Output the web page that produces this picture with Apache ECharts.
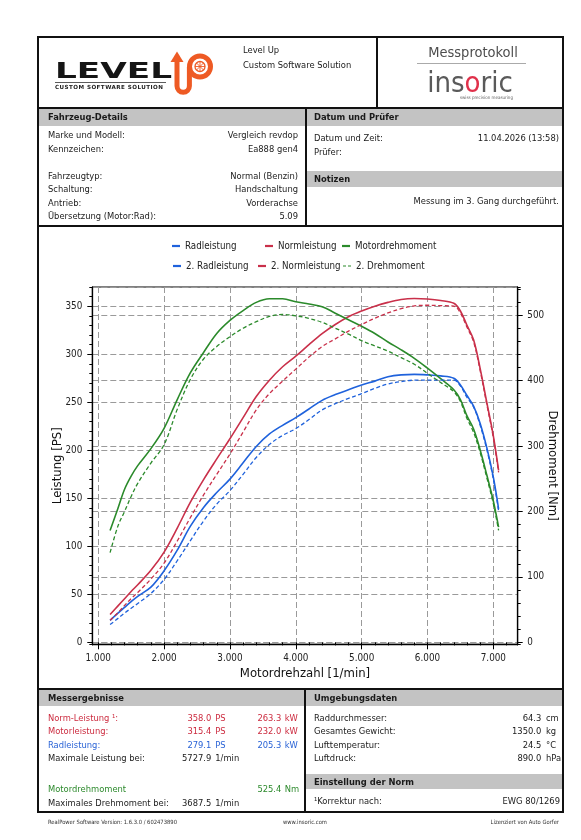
<!DOCTYPE html>
<html><head><meta charset="utf-8">
<script src="https://cdn.jsdelivr.net/npm/echarts@6/dist/echarts.min.js"></script>
<style>
html,body{margin:0;padding:0;background:#fff;}
body{width:581px;height:840px;position:relative;overflow:hidden;}
#chart{position:absolute;left:0;top:0;width:581px;height:840px;z-index:1;}
.o{position:absolute;z-index:3;font-family:'DejaVu Sans Condensed','DejaVu Sans',sans-serif;font-size:9.3px;line-height:1;color:#1a1a1a;white-space:nowrap;}
.b{font-weight:bold;}
.bar{position:absolute;z-index:2;background:#c3c3c3;}
.ln{position:absolute;z-index:3;background:#111;}
.red{color:#cc2b3f;} .blue{color:#2a63d6;} .green{color:#2d8a2d;}
.foot{font-size:5.8px;color:#333;}
</style></head>
<body>
<div id="chart"></div>

<!-- frame and section lines -->
<div style="position:absolute;z-index:3;left:37px;top:36px;width:527px;height:777px;border:2px solid #111;box-sizing:border-box;"></div>
<div class="ln" style="left:37px;top:106.5px;width:527px;height:2px;"></div>
<div class="ln" style="left:376px;top:36px;width:2px;height:72px;"></div>
<div class="ln" style="left:304.5px;top:107px;width:2px;height:119px;"></div>
<div class="ln" style="left:37px;top:225px;width:527px;height:2px;"></div>
<div class="ln" style="left:37px;top:688px;width:527px;height:2px;"></div>
<div class="ln" style="left:303.5px;top:689px;width:2px;height:124px;"></div>

<!-- grey header bars -->
<div class="bar" style="left:39px;top:108.5px;width:265.5px;height:17px;"></div>
<div class="bar" style="left:306.5px;top:108.5px;width:255.5px;height:17px;"></div>
<div class="bar" style="left:306.5px;top:170.5px;width:255.5px;height:16px;"></div>
<div class="bar" style="left:39px;top:690px;width:264.5px;height:15.7px;"></div>
<div class="bar" style="left:305.5px;top:690px;width:256.5px;height:15.7px;"></div>
<div class="bar" style="left:305.5px;top:773.5px;width:256.5px;height:15.5px;"></div>

<!-- logo -->
<svg style="position:absolute;left:0;top:0;z-index:3" width="581" height="110">
  <path d="M177 61 L177 86 A6.2 6.2 0 0 0 189.4 86 L189.4 67" fill="none" stroke="#ee5a24" stroke-width="5"/>
  <polygon points="170.5,62 183.5,62 177,51.5" fill="#ee5a24"/>
  <circle cx="200" cy="66.5" r="10.5" fill="none" stroke="#ee5a24" stroke-width="5"/>
  <circle cx="200" cy="66.5" r="5" fill="none" stroke="#ee5a24" stroke-width="1.3"/>
  <path d="M200 61.5 L200 71.5 M195 66.5 L205 66.5 M196.5 63 L203.5 70 M203.5 63 L196.5 70" stroke="#ee5a24" stroke-width="0.9"/>
  <rect x="55" y="82" width="111" height="0.8" fill="#333"/>
</svg>
<div class="o b" style="left:55px;top:60.4px;font-family:'DejaVu Sans',sans-serif;font-size:22px;color:#151515;transform:scaleX(1.56);transform-origin:0 0;">LEVEL</div>
<div class="o b" style="left:55px;top:85.1px;font-family:'DejaVu Sans',sans-serif;font-size:5.6px;letter-spacing:0.45px;color:#222;">CUSTOM SOFTWARE SOLUTION</div>

<div class="o" style="left:243px;top:44.5px;">Level Up</div>
<div class="o" style="left:243px;top:59.8px;">Custom Software Solution</div>

<div class="o" style="left:423px;top:44.5px;width:100px;text-align:center;font-size:14.5px;color:#4d4d4d;">Messprotokoll</div>
<div style="position:absolute;z-index:3;left:417px;top:63px;width:109px;height:1px;background:#aaa;"></div>
<div class="o" style="left:420px;top:68.2px;width:100px;text-align:center;font-size:29px;color:#5a5a5a;">ins<span style="color:#e0304a;">o</span>ric</div>
<div class="o" style="right:68px;top:95.5px;font-size:4.5px;color:#666;">swiss precision measuring</div>

<!-- Fahrzeug-Details -->
<div class="o b" style="left:48px;top:112px;">Fahrzeug-Details</div>
<div class="o" style="left:48px;top:129.5px;">Marke und Modell:</div>
<div class="o" style="right:283px;top:129.5px;">Vergleich revdop</div>
<div class="o" style="left:48px;top:143.8px;">Kennzeichen:</div>
<div class="o" style="right:283px;top:143.8px;">Ea888 gen4</div>
<div class="o" style="left:48px;top:170.5px;">Fahrzeugtyp:</div>
<div class="o" style="right:283px;top:170.5px;">Normal (Benzin)</div>
<div class="o" style="left:48px;top:184px;">Schaltung:</div>
<div class="o" style="right:283px;top:184px;">Handschaltung</div>
<div class="o" style="left:48px;top:197.5px;">Antrieb:</div>
<div class="o" style="right:283px;top:197.5px;">Vorderachse</div>
<div class="o" style="left:48px;top:211px;">Übersetzung (Motor:Rad):</div>
<div class="o" style="right:283px;top:211px;">5.09</div>

<!-- Datum und Prüfer -->
<div class="o b" style="left:314px;top:112px;">Datum und Prüfer</div>
<div class="o" style="left:314px;top:133.2px;">Datum und Zeit:</div>
<div class="o" style="right:22px;top:133.2px;">11.04.2026 (13:58)</div>
<div class="o" style="left:314px;top:147.2px;">Prüfer:</div>
<div class="o b" style="left:314px;top:174px;">Notizen</div>
<div class="o" style="right:22px;top:195.5px;">Messung im 3. Gang durchgeführt.</div>

<!-- Messergebnisse -->
<div class="o b" style="left:48px;top:693.2px;">Messergebnisse</div>
<div class="o red" style="left:48px;top:712.8px;">Norm-Leistung ¹:</div>
<div class="o red" style="right:369.7px;top:712.8px;">358.0</div>
<div class="o red" style="left:215.3px;top:712.8px;">PS</div>
<div class="o red" style="right:299.7px;top:712.8px;">263.3</div>
<div class="o red" style="left:284.7px;top:712.8px;">kW</div>
<div class="o red" style="left:48px;top:726.2px;">Motorleistung:</div>
<div class="o red" style="right:369.7px;top:726.2px;">315.4</div>
<div class="o red" style="left:215.3px;top:726.2px;">PS</div>
<div class="o red" style="right:299.7px;top:726.2px;">232.0</div>
<div class="o red" style="left:284.7px;top:726.2px;">kW</div>
<div class="o blue" style="left:48px;top:739.8px;">Radleistung:</div>
<div class="o blue" style="right:369.7px;top:739.8px;">279.1</div>
<div class="o blue" style="left:215.3px;top:739.8px;">PS</div>
<div class="o blue" style="right:299.7px;top:739.8px;">205.3</div>
<div class="o blue" style="left:284.7px;top:739.8px;">kW</div>
<div class="o" style="left:48px;top:753.2px;">Maximale Leistung bei:</div>
<div class="o" style="right:369.7px;top:753.2px;">5727.9</div>
<div class="o" style="left:215.3px;top:753.2px;">1/min</div>
<div class="o green" style="left:48px;top:783.8px;">Motordrehmoment</div>
<div class="o green" style="right:299.7px;top:783.8px;">525.4</div>
<div class="o green" style="left:284.7px;top:783.8px;">Nm</div>
<div class="o" style="left:48px;top:797.8px;">Maximales Drehmoment bei:</div>
<div class="o" style="right:369.7px;top:797.8px;">3687.5</div>
<div class="o" style="left:215.3px;top:797.8px;">1/min</div>

<!-- Umgebungsdaten -->
<div class="o b" style="left:314px;top:693.2px;">Umgebungsdaten</div>
<div class="o" style="left:314px;top:712.8px;">Raddurchmesser:</div>
<div class="o" style="right:39.7px;top:712.8px;">64.3</div>
<div class="o" style="left:546px;top:712.8px;">cm</div>
<div class="o" style="left:314px;top:726.2px;">Gesamtes Gewicht:</div>
<div class="o" style="right:39.7px;top:726.2px;">1350.0</div>
<div class="o" style="left:546px;top:726.2px;">kg</div>
<div class="o" style="left:314px;top:739.8px;">Lufttemperatur:</div>
<div class="o" style="right:39.7px;top:739.8px;">24.5</div>
<div class="o" style="left:546px;top:739.8px;">°C</div>
<div class="o" style="left:314px;top:753.2px;">Luftdruck:</div>
<div class="o" style="right:39.7px;top:753.2px;">890.0</div>
<div class="o" style="left:546px;top:753.2px;">hPa</div>
<div class="o b" style="left:314px;top:777px;">Einstellung der Norm</div>
<div class="o" style="left:314px;top:795.5px;">¹Korrektur nach:</div>
<div class="o" style="right:21px;top:795.5px;">EWG 80/1269</div>

<!-- footer -->
<div class="o foot" style="left:48px;top:820.2px;">RealPower Software Version: 1.6.3.0 / 602473890</div>
<div class="o foot" style="left:255px;top:820.2px;width:100px;text-align:center;">www.insoric.com</div>
<div class="o foot" style="right:22px;top:820.2px;">Lizenziert von Auto Gorfer</div>

<script>
// ---- data ----
const rpm = [1180,1300,1400,1500,1600,1800,2000,2200,2400,2600,2800,3000,3200,3400,3600,3800,4000,4200,4400,4600,4800,5000,5200,5400,5600,5800,6000,6200,6400,6500,6600,6700,6800,6900,7000,7080];
const radleistung   = [23,30.5,36.5,42.5,48,57.5,74.5,96,121,140.5,156,170,187,204,217,226,234,243,252,258,263,268,272,276.5,278.5,279,278.5,277.5,275,268,257,246,228,203,172,139];
const normleistung  = [29,38,45.5,53,60,75,94,119,146,169.5,191,212,234,256,273,287,298,310,321.5,331,339,345,350,354,357,358,357.5,356,353,345,330,315,285,250,215,179];
const drehmoment    = [171,205,234,254,270,296,327,371,412,443,472,492,507,519.5,525,525,520.5,517,513,503,493,483,472,459,447,434,419,403,386,371,346,326,294,256,216,176];
const radleistung2  = [18.5,25,30.5,35.5,40.5,51,65.5,85,106,126.5,144,158,175,192.5,206,215.5,222.5,232,242,248.5,254,259,264.5,269,271.5,273,273,273,273,267,255,245,226,201,170,137];
const normleistung2 = [23,31,38.5,45.5,52,66,82.5,105.5,130,153.5,175,196,219,242,259,272,284.5,297,308,316,324,331,337.5,343,347.5,350.3,351,350.6,350,343,328,313,283,248,213,177];
const drehmoment2   = [137,178,200,223,243,274,302,356,402,433,452,467,480,490,498,501,499,495,489,480,471,461,453,445,435,425,411,397,383,368,342,321,290,252,212,171];
const rpmRange = [910, 7370];
const psRange  = [-2, 370];
const nmRange  = [-3, 543];
const legendRow1 = ['Radleistung','Normleistung','Motordrehmoment'];
const legendRow2 = ['2. Radleistung','2. Normleistung','2. Drehmoment'];

const FONT = "'DejaVu Sans Condensed','DejaVu Sans',sans-serif";
const BLUE = '#1f62dc', RED = '#c9304a', GREEN = '#2b8a2b';
const pairs = ys => rpm.map((x, i) => [x, ys[i]]);
const fmt = v => Math.round(v).toString().replace(/\B(?=(\d{3})+(?!\d))/g, '.');
const gridLine = {show: true, lineStyle: {color: '#9a9a9a', width: 1, type: [6, 3]}};
const lbl = {fontFamily: FONT, fontSize: 9.8, color: '#222'};
const nameStyle = {fontFamily: FONT, fontSize: 13, color: '#111'};
const axisLine = {show: true, onZero: false, lineStyle: {color: '#000', width: 1.3}};
const tick = {show: true, length: 5, lineStyle: {color: '#000', width: 1}};
const minorTick = {show: true, length: 3, lineStyle: {color: '#000', width: 1}};

function line(name, data, color, yIdx, dashed) {
  return {
    name, type: 'line', xAxisIndex: 0, yAxisIndex: yIdx, data: pairs(data),
    symbol: 'none', showSymbol: false, smooth: 0.35,
    lineStyle: {color, width: dashed ? 1.3 : 1.6, type: dashed ? [4, 2.5] : 'solid'},
    itemStyle: {color}
  };
}

const DASH_ICON = 'path://M0,0 L3,0 L3,1 L0,1 Z M5,0 L8,0 L8,1 L5,1 Z';
const legendPos = [
  [legendRow1[0], 172, 241, 'rect'], [legendRow1[1], 265, 241, 'rect'], [legendRow1[2], 342, 241, 'rect'],
  [legendRow2[0], 173, 261, 'rect'], [legendRow2[1], 258, 261, 'rect'], [legendRow2[2], 343, 261, DASH_ICON]
];

const chart = echarts.init(document.getElementById('chart'), null, {renderer: 'canvas'});
chart.setOption({
  animation: false,
  backgroundColor: 'transparent',
  legend: legendPos.map(([n, l, t, ic]) => ({
    data: [n], left: l, top: t, padding: 0, itemGap: 0, itemWidth: 8, itemHeight: 2.2, icon: ic,
    selectedMode: false, textStyle: {fontFamily: FONT, fontSize: 9.7, color: '#222'}
  })),
  grid: {left: 92.3, right: 63.3, top: 287, bottom: 195.7, show: true, borderColor: '#000', borderWidth: 1,
         containLabel: false, outerBoundsMode: 'none'},
  xAxis: [
    {type: 'value', min: rpmRange[0], max: rpmRange[1], splitNumber: 6, position: 'bottom',
     name: 'Motordrehzahl [1/min]', nameLocation: 'middle', nameGap: 23, nameMoveOverlap: false, nameTextStyle: nameStyle,
     axisLine, axisTick: tick,
     axisLabel: Object.assign({margin: 9, formatter: fmt, showMinLabel: false, showMaxLabel: false}, lbl),
     splitLine: gridLine},
    {type: 'value', min: rpmRange[0], max: rpmRange[1], splitNumber: 32, position: 'bottom',
     axisLine: {show: false}, axisTick: minorTick, axisLabel: {show: false}, splitLine: {show: false}}
  ],
  yAxis: [
    {type: 'value', position: 'left', min: psRange[0], max: psRange[1], splitNumber: 7,
     name: 'Leistung [PS]', nameLocation: 'middle', nameGap: 28, nameRotate: 90, nameMoveOverlap: false, nameTextStyle: nameStyle,
     axisLine, axisTick: tick,
     axisLabel: Object.assign({margin: 10, showMinLabel: false, showMaxLabel: false}, lbl),
     splitLine: gridLine},
    {type: 'value', position: 'right', min: nmRange[0], max: nmRange[1], splitNumber: 5,
     name: 'Drehmoment [Nm]', nameLocation: 'middle', nameGap: 28, nameRotate: -90, nameMoveOverlap: false, nameTextStyle: nameStyle,
     axisLine, axisTick: tick,
     axisLabel: Object.assign({margin: 9.6, showMinLabel: false, showMaxLabel: false}, lbl),
     splitLine: gridLine},
    {type: 'value', position: 'left', min: psRange[0], max: psRange[1], splitNumber: 37,
     axisLine: {show: false}, axisTick: minorTick, axisLabel: {show: false}, splitLine: {show: false}},
    {type: 'value', position: 'right', min: nmRange[0], max: nmRange[1], splitNumber: 27,
     axisLine: {show: false}, axisTick: minorTick, axisLabel: {show: false}, splitLine: {show: false}}
  ],
  series: [
    line(legendRow1[0], radleistung, BLUE, 0, false),
    line(legendRow1[1], normleistung, RED, 0, false),
    line(legendRow1[2], drehmoment, GREEN, 1, false),
    line(legendRow2[0], radleistung2, BLUE, 0, true),
    line(legendRow2[1], normleistung2, RED, 0, true),
    line(legendRow2[2], drehmoment2, GREEN, 1, true)
  ]
});
</script>
</body></html>
